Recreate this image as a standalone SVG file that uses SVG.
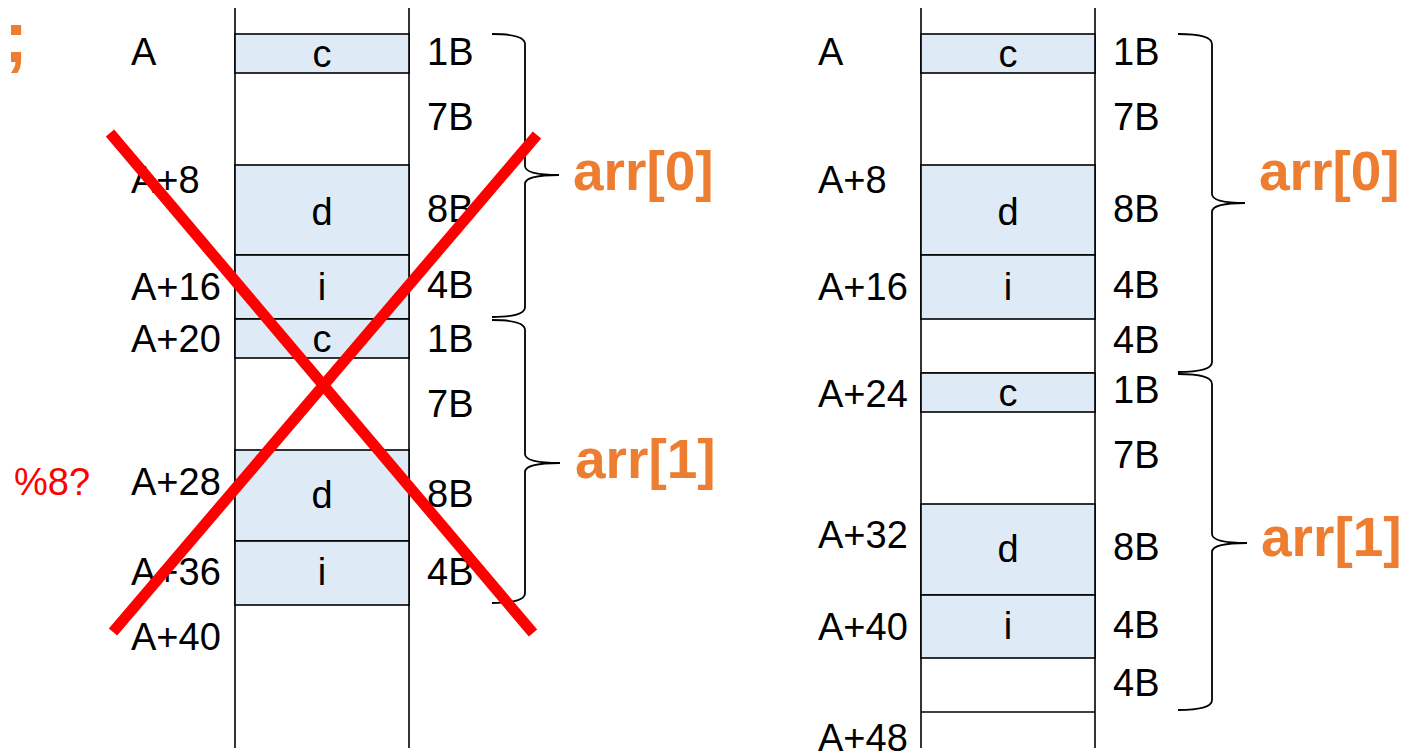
<svg xmlns="http://www.w3.org/2000/svg" width="1416" height="756" viewBox="0 0 1416 756">
  <style>
    .rail { stroke: #000; stroke-width: 1.6; fill: none; }
    .cell { fill: #deebf7; stroke: #000; stroke-width: 1.6; }
    .sep { stroke: #000; stroke-width: 1.6; }
    .t { font-family: "Liberation Sans", Arial, sans-serif; font-size: 38px; fill: #000; }
    .mid { text-anchor: middle; }
    .hl { font-family: "Liberation Sans", Arial, sans-serif; font-size: 55px; font-weight: bold; fill: #ed7d31; }
    .brace { stroke: #000; stroke-width: 1.8; fill: none; }
    .cross { stroke: #ff0000; stroke-width: 11; }
    .note { font-family: "Liberation Sans", Arial, sans-serif; font-size: 38px; fill: #ff0000; }
  </style>

  <!-- trailing semicolon of the struct declaration -->
  <text class="hl" x="4" y="62" style="font-size:72px">;</text>

  <!-- Left layout: packed (wrong) -->
  <g id="left-layout">
    <line class="rail" x1="235" y1="8" x2="235" y2="748"/>
    <line class="rail" x1="409" y1="8" x2="409" y2="748"/>
    <g id="l-c0"><rect class="cell" x="235" y="34" width="174" height="39"/><text class="t mid" x="322" y="67">c</text></g>
    <g id="l-d0"><rect class="cell" x="235" y="165" width="174" height="90"/><text class="t mid" x="322" y="225">d</text></g>
    <g id="l-i0"><rect class="cell" x="235" y="255" width="174" height="64"/><text class="t mid" x="322" y="300">i</text></g>
    <g id="l-c1"><rect class="cell" x="235" y="319" width="174" height="39"/><text class="t mid" x="322" y="352">c</text></g>
    <g id="l-d1"><rect class="cell" x="235" y="450" width="174" height="91"/><text class="t mid" x="322" y="508">d</text></g>
    <g id="l-i1"><rect class="cell" x="235" y="541" width="174" height="64"/><text class="t mid" x="322" y="585">i</text></g>

    <g id="l-addr">
      <text class="t" x="131" y="65">A</text>
      <text class="t" x="131" y="193">A+8</text>
      <text class="t" x="131" y="300">A+16</text>
      <text class="t" x="131" y="352">A+20</text>
      <text class="t" x="131" y="495">A+28</text>
      <text class="t" x="131" y="585">A+36</text>
      <text class="t" x="131" y="650">A+40</text>
    </g>
    <g id="l-size">
      <text class="t" x="427" y="65">1B</text>
      <text class="t" x="427" y="130">7B</text>
      <text class="t" x="427" y="222">8B</text>
      <text class="t" x="427" y="298">4B</text>
      <text class="t" x="427" y="352">1B</text>
      <text class="t" x="427" y="417">7B</text>
      <text class="t" x="427" y="507">8B</text>
      <text class="t" x="427" y="585">4B</text>
    </g>
    <text class="note" x="14" y="495">%8?</text>

    <g id="l-braces">
      <path class="brace" d="M492,34 Q525,34 525,44 L525,166 Q525,175 559,175 Q525,175 525,184 L525,307 Q525,317 492,317"/>
      <path class="brace" d="M492,320 Q525,320 525,330 L525,454 Q525,463 560,463 Q525,463 525,472 L525,593 Q525,603 492,603"/>
    </g>
    <text class="hl" x="573" y="190">arr[0]</text>
    <text class="hl" x="575" y="478">arr[1]</text>

    <!-- red cross striking out the packed layout -->
    <g id="l-cross">
      <line class="cross" x1="110" y1="133" x2="533" y2="633"/>
      <line class="cross" x1="537" y1="135" x2="113" y2="632"/>
    </g>
  </g>

  <!-- Right layout: aligned with padding -->
  <g id="right-layout">
    <line class="rail" x1="921" y1="8" x2="921" y2="748"/>
    <line class="rail" x1="1095" y1="8" x2="1095" y2="748"/>
    <g id="r-c0"><rect class="cell" x="921" y="34" width="174" height="39"/><text class="t mid" x="1008" y="67">c</text></g>
    <g id="r-d0"><rect class="cell" x="921" y="165" width="174" height="90"/><text class="t mid" x="1008" y="225">d</text></g>
    <g id="r-i0"><rect class="cell" x="921" y="255" width="174" height="64"/><text class="t mid" x="1008" y="300">i</text></g>
    <line class="sep" x1="921" y1="373" x2="1095" y2="373"/>
    <g id="r-c1"><rect class="cell" x="921" y="373" width="174" height="39"/><text class="t mid" x="1008" y="406">c</text></g>
    <g id="r-d1"><rect class="cell" x="921" y="504" width="174" height="91"/><text class="t mid" x="1008" y="562">d</text></g>
    <g id="r-i1"><rect class="cell" x="921" y="595" width="174" height="63"/><text class="t mid" x="1008" y="639">i</text></g>
    <line class="sep" x1="921" y1="712" x2="1095" y2="712"/>

    <g id="r-addr">
      <text class="t" x="818" y="65">A</text>
      <text class="t" x="818" y="193">A+8</text>
      <text class="t" x="818" y="300">A+16</text>
      <text class="t" x="818" y="407">A+24</text>
      <text class="t" x="818" y="548">A+32</text>
      <text class="t" x="818" y="640">A+40</text>
      <text class="t" x="818" y="751">A+48</text>
    </g>
    <g id="r-size">
      <text class="t" x="1113" y="65">1B</text>
      <text class="t" x="1113" y="130">7B</text>
      <text class="t" x="1113" y="222">8B</text>
      <text class="t" x="1113" y="298">4B</text>
      <text class="t" x="1113" y="353">4B</text>
      <text class="t" x="1113" y="403">1B</text>
      <text class="t" x="1113" y="468">7B</text>
      <text class="t" x="1113" y="560">8B</text>
      <text class="t" x="1113" y="638">4B</text>
      <text class="t" x="1113" y="696">4B</text>
    </g>

    <g id="r-braces">
      <path class="brace" d="M1178,34 Q1212,34 1212,44 L1212,194 Q1212,203 1245,203 Q1212,203 1212,212 L1212,362 Q1212,372 1178,372"/>
      <path class="brace" d="M1178,374 Q1212,374 1212,384 L1212,534 Q1212,543 1247,543 Q1212,543 1212,552 L1212,700 Q1212,710 1178,710"/>
    </g>
    <text class="hl" x="1259" y="190">arr[0]</text>
    <text class="hl" x="1261" y="556">arr[1]</text>
  </g>
</svg>
